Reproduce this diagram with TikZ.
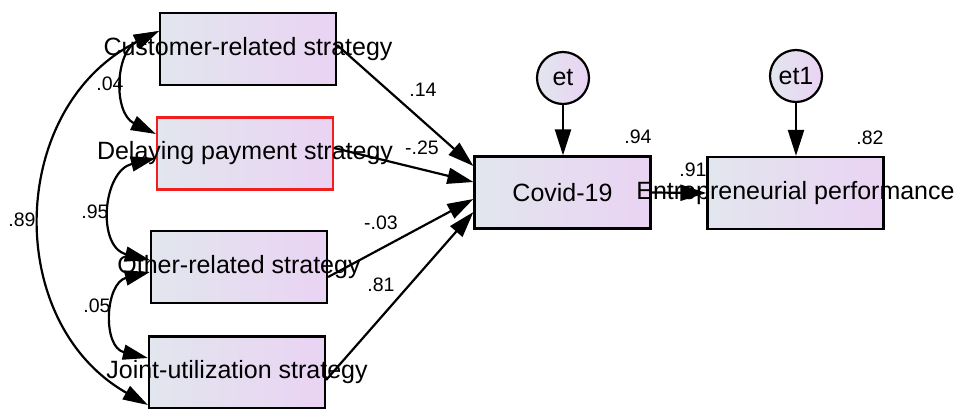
\documentclass[tikz,border=0pt]{standalone}
\usepackage{fontspec}
\setmainfont{Liberation Sans}
\usetikzlibrary{arrows.meta}
\definecolor{boxL}{HTML}{E2E6EE}
\definecolor{boxR}{HTML}{EAD3F3}
\definecolor{redline}{HTML}{F01E1E}
\begin{document}
\begin{tikzpicture}[x=1pt,y=-1pt,
  var/.style={draw=black, line width=2.2pt, left color=boxL, right color=boxR,
    minimum width=176pt, minimum height=72pt, inner sep=0pt,
    font=\fontsize{25}{28}\selectfont},
  err/.style={circle, draw=black, line width=2.2pt, left color=boxL, right color=boxR,
    minimum size=52pt, inner sep=0pt, font=\fontsize{25}{28}\selectfont},
  coef/.style={font=\fontsize{19.5}{22}\selectfont, inner sep=0pt},
  reg/.style={line width=2.2pt, -{Triangle[length=26pt,width=16pt]}},
  cov/.style={line width=2.2pt,
    {Triangle[length=25pt,width=15pt]}-{Triangle[length=25pt,width=15pt]}},
]
\path[use as bounding box, clip] (0,0) rectangle (958,408);

% observed variables
\node[var] (cust) at (248,49) {\makebox[0pt]{\raisebox{-1.5pt}{Customer-related strategy}}};
\node[var, draw=redline] (delay) at (245,153.5) {\makebox[0pt]{\raisebox{-1.5pt}{Delaying payment strategy}}};
\node[var] (other) at (239,267) {\makebox[0pt]{\raisebox{-1.5pt}{Other-related strategy}}};
\node[var] (joint) at (237,372.5) {\makebox[0pt]{\raisebox{-1.5pt}{Joint-utilization strategy}}};
\node[var] (covid) at (562.5,192.5) {\makebox[0pt]{Covid-19}};
\node[var] (ep) at (795.5,193) {\makebox[0pt]{Entrepreneurial performance}};

% error terms
\node[err] (et) at (563,78) {et};
\node[err] (et1) at (796,76) {et1};

% regression paths
\draw[reg] ([yshift=4pt]cust.east) -- ([yshift=26.5pt]covid.west);
\draw[reg] ([yshift=5.5pt]delay.east) -- ([yshift=10.5pt]covid.west);
\draw[reg] ([yshift=-10pt]other.east) -- ([yshift=-6.5pt]covid.west);
\draw[reg] ([yshift=-7.5pt]joint.east) -- ([yshift=-19.5pt]covid.west);
\draw[reg] (et.south) -- (et.south |- covid.north);
\draw[reg] (et1.south) -- (et1.south |- ep.north);
\draw[reg] (covid.east) -- (ep.west);

% covariances
\draw[cov] ([yshift=18pt]cust.west) .. controls (115,52) and (113,113) .. ([yshift=19.5pt]delay.west);
\draw[cov] ([yshift=-4.5pt]delay.west) .. controls (102.5,171) and (96.5,247) .. ([yshift=7pt]other.west);
\draw[cov] ([yshift=-5pt]other.west) .. controls (105,283) and (102,347) .. ([yshift=14.5pt]joint.west);
\draw[cov] ([yshift=18pt]cust.west) .. controls (8,106) and (2,322) .. ([yshift=-32.5pt]joint.west);

% coefficients
\node[coef] (c04) at (110,84) {.04};
\node[coef] (c95) at (95,212) {.95};
\node[coef] (c89) at (22,220) {.89};
\node[coef] (c05) at (97,306) {.05};
\node[coef] (c14) at (423,90) {.14};
\node[coef] (c25) at (422,148) {-.25};
\node[coef] (c03) at (381,223) {-.03};
\node[coef] (c81) at (381,285) {.81};
\node[coef] (c94) at (638,137) {.94};
\node[coef] (c82) at (870,138) {.82};
\node[coef] (c91) at (693,170) {.91};
\end{tikzpicture}
\end{document}
